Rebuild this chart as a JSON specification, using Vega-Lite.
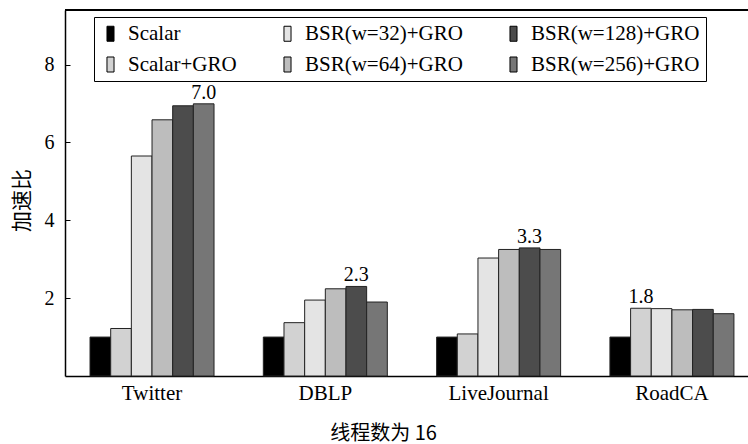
{
  "$schema": "https://vega.github.io/schema/vega-lite/v6.json",
  "width": 683,
  "height": 366,
  "autosize": {"type": "none"},
  "padding": {"left": 65, "top": 10, "right": 0, "bottom": 68},
  "background": "white",
  "config": {
    "view": {"stroke": null},
    "font": "Liberation Serif"
  },
  "data": {
    "values": [
      {"dataset": "Twitter", "series": "Scalar", "speedup": 1.0},
      {"dataset": "Twitter", "series": "Scalar+GRO", "speedup": 1.22},
      {"dataset": "Twitter", "series": "BSR(w=32)+GRO", "speedup": 5.65},
      {"dataset": "Twitter", "series": "BSR(w=64)+GRO", "speedup": 6.58},
      {"dataset": "Twitter", "series": "BSR(w=128)+GRO", "speedup": 6.94},
      {"dataset": "Twitter", "series": "BSR(w=256)+GRO", "speedup": 6.99, "label": "7.0"},
      {"dataset": "DBLP", "series": "Scalar", "speedup": 1.0},
      {"dataset": "DBLP", "series": "Scalar+GRO", "speedup": 1.37},
      {"dataset": "DBLP", "series": "BSR(w=32)+GRO", "speedup": 1.95},
      {"dataset": "DBLP", "series": "BSR(w=64)+GRO", "speedup": 2.24},
      {"dataset": "DBLP", "series": "BSR(w=128)+GRO", "speedup": 2.3, "label": "2.3"},
      {"dataset": "DBLP", "series": "BSR(w=256)+GRO", "speedup": 1.9},
      {"dataset": "LiveJournal", "series": "Scalar", "speedup": 1.0},
      {"dataset": "LiveJournal", "series": "Scalar+GRO", "speedup": 1.08},
      {"dataset": "LiveJournal", "series": "BSR(w=32)+GRO", "speedup": 3.03},
      {"dataset": "LiveJournal", "series": "BSR(w=64)+GRO", "speedup": 3.25},
      {"dataset": "LiveJournal", "series": "BSR(w=128)+GRO", "speedup": 3.29, "label": "3.3"},
      {"dataset": "LiveJournal", "series": "BSR(w=256)+GRO", "speedup": 3.25},
      {"dataset": "RoadCA", "series": "Scalar", "speedup": 1.0},
      {"dataset": "RoadCA", "series": "Scalar+GRO", "speedup": 1.74, "label": "1.8"},
      {"dataset": "RoadCA", "series": "BSR(w=32)+GRO", "speedup": 1.73},
      {"dataset": "RoadCA", "series": "BSR(w=64)+GRO", "speedup": 1.7},
      {"dataset": "RoadCA", "series": "BSR(w=128)+GRO", "speedup": 1.71},
      {"dataset": "RoadCA", "series": "BSR(w=256)+GRO", "speedup": 1.6}
    ]
  },
  "encoding": {
    "x": {
      "field": "dataset",
      "type": "nominal",
      "sort": null,
      "scale": {"paddingInner": 0.2845, "paddingOuter": 0.1128, "align": 0.64},
      "axis": {
        "title": "线程数为 16",
        "titleFont": "Noto Sans CJK SC",
        "titleFontSize": 20,
        "titleFontWeight": "normal",
        "titleColor": "black",
        "titleX": 318,
        "titleY": 47,
        "titleAlign": "center",
        "titleBaseline": "top",
        "labelAngle": 0,
        "labelFont": "Liberation Serif",
        "labelFontSize": 21,
        "labelColor": "black",
        "labelPadding": 6,
        "ticks": false,
        "domainColor": "black",
        "domainWidth": 1.5
      }
    },
    "xOffset": {
      "field": "series",
      "type": "nominal",
      "sort": ["Scalar", "Scalar+GRO", "BSR(w=32)+GRO", "BSR(w=64)+GRO", "BSR(w=128)+GRO", "BSR(w=256)+GRO"],
      "scale": {"paddingInner": 0, "paddingOuter": 0}
    },
    "y": {
      "field": "speedup",
      "type": "quantitative",
      "scale": {"domain": [0, 9.4], "nice": false, "zero": true},
      "axis": {
        "title": "加速比",
        "titleFont": "Noto Sans CJK SC",
        "titleFontSize": 21,
        "titleFontWeight": "normal",
        "titleColor": "black",
        "titleX": -43,
        "titleY": 190,
        "titleAngle": -90,
        "titleAlign": "center",
        "titleBaseline": "middle",
        "values": [2, 4, 6, 8],
        "grid": false,
        "tickSize": -5,
        "tickColor": "black",
        "labelPadding": 16,
        "labelFont": "Liberation Serif",
        "labelFontSize": 20,
        "labelColor": "black",
        "domainColor": "black",
        "domainWidth": 1.5
      }
    }
  },
  "layer": [
    {
      "mark": {"type": "bar", "stroke": "#222222", "strokeWidth": 1},
      "encoding": {
        "color": {
          "field": "series",
          "type": "nominal",
          "scale": {
            "domain": ["Scalar", "BSR(w=32)+GRO", "BSR(w=128)+GRO", "Scalar+GRO", "BSR(w=64)+GRO", "BSR(w=256)+GRO"],
            "range": ["#000000", "#e4e4e4", "#4c4c4c", "#d2d2d2", "#bdbdbd", "#767676"]
          },
          "legend": {
            "title": null,
            "orient": "none",
            "legendX": 29,
            "legendY": 7,
            "columns": 3,
            "direction": "horizontal",
            "padding": 6,
            "strokeColor": "black",
            "fillColor": "white",
            "labelFont": "Liberation Serif",
            "labelFontSize": 21,
            "labelColor": "black",
            "labelLimit": 300,
            "labelOffset": 7,
            "symbolType": "M-0.47,-1H0.47V1H-0.47Z",
            "symbolSize": 225,
            "symbolStrokeColor": "black",
            "symbolStrokeWidth": 1,
            "symbolOpacity": 1,
            "columnPadding": 40,
            "rowPadding": 9
          }
        }
      }
    },
    {
      "transform": [{"filter": "datum.label != null"}],
      "mark": {"type": "text", "baseline": "bottom", "dy": -1, "fontSize": 20, "font": "Liberation Serif", "color": "black"},
      "encoding": {"text": {"field": "label"}}
    },
    {
      "mark": {"type": "rule", "color": "black", "strokeWidth": 1.5},
      "encoding": {"y": {"datum": 9.4}, "x": null, "xOffset": null}
    }
  ]
}
